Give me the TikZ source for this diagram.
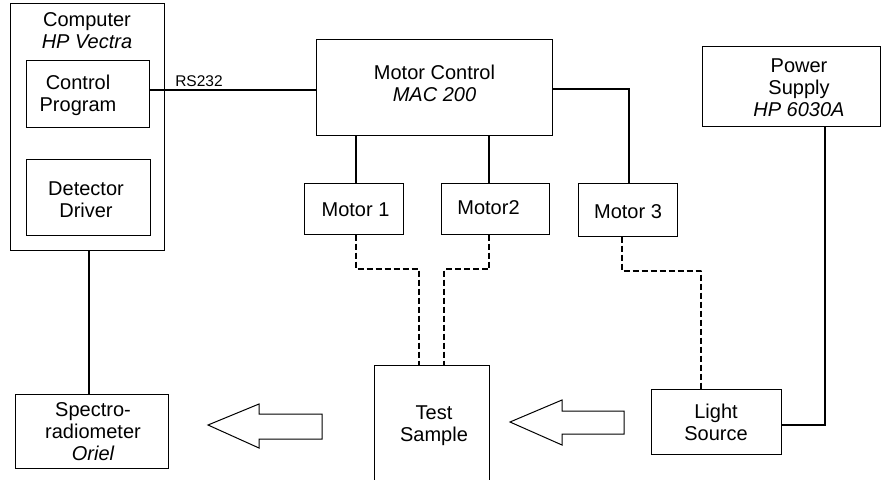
\documentclass[tikz,border=0pt]{standalone}
\usepackage{fontspec}
\setmainfont{Liberation Sans}
\usetikzlibrary{calc}

\tikzset{
  box/.style={draw=black, line width=1pt, inner sep=0pt, minimum width=#1},
  txt/.style={inner sep=0pt, align=center, font=\fontsize{20}{22}\selectfont},
  link/.style={line width=1.8pt},
  cable/.style={line width=2.8pt, dash pattern=on 6pt off 3pt, line join=round},
  beam/.style={draw=black, line width=1pt, line join=miter},
}

\begin{document}
\begin{tikzpicture}[x=1pt, y=-1pt]
\useasboundingbox (0,0) rectangle (882,479);
\clip (0,0) rectangle (882,479);

% computer and its programs
\node[box=154pt, minimum height=247pt] (comp) at (87,126.5) {};
\node[txt] (compt) at (87,31) {Computer\\\itshape HP Vectra};
\node[box=123pt, minimum height=67pt] (cp) at (87.5,93.5) {};
\node[txt] (cpt) at (78,95) {Control\\Program};
\node[box=124pt, minimum height=76pt] (dd) at (88,197) {};
\node[txt] (ddt) at (86,199.5) {Detector\\Driver};

% motor controller and motors
\node[box=236pt, minimum height=96pt] (mc) at (434,87) {};
\node[txt] (mct) at (434.5,83) {Motor Control\\\itshape MAC 200};
\node[box=99pt, minimum height=51pt] (m1) at (353.5,208.5) {};
\node[txt] (m1t) at (355.5,210) {Motor 1};
\node[box=108pt, minimum height=51pt] (m2) at (495,208.5) {};
\node[txt] (m2t) at (488.5,208) {Motor2};
\node[box=99pt, minimum height=53pt] (m3) at (627.5,209.5) {};
\node[txt] (m3t) at (628,212) {Motor 3};

% power supply
\node[box=178pt, minimum height=80pt] (ps) at (791,86) {};
\node[txt] (pst) at (799,87.5) {Power\\Supply\\\itshape HP 6030A};

% optical bench
\node[box=115pt, minimum height=130pt] (ts) at (431.5,430) {};
\node[txt] (tst) at (434,426) {Test\\Sample};
\node[box=130pt, minimum height=65pt] (ls) at (716,421.5) {};
\node[txt] (lst) at (716,422.5) {Light\\Source};
\node[box=153pt, minimum height=74pt] (spec) at (91.5,431) {};
\node[txt] (spect) at (93,432) {Spectro-\\radiometer\\\itshape Oriel};

% serial link
\draw[link] (cp.east |- 0,90) -- (mc.west |- 0,90);
\node[inner sep=0pt, anchor=base, font=\fontsize{15.5}{17}\selectfont] (rs) at (199,86) {RS232};

% control lines
\draw[link] (356,0 |- mc.south) -- (356,0 |- m1.north);
\draw[link] (489,0 |- mc.south) -- (489,0 |- m2.north);
\draw[link] (mc.east |- 0,89) -| (629,0 |- m3.north);
\draw[link] (89,0 |- comp.south) -- (89,0 |- spec.north);
\draw[link] (825,0 |- ps.south) |- (ls.east |- 0,425);

% mechanical couplings
\draw[cable] (356,0 |- m1.south) -- (356,269) -| (419,0 |- ts.north);
\draw[cable] (489,0 |- m2.south) -- (489,269) -| (444,0 |- ts.north);
\draw[cable] (622,0 |- m3.south) -- (622,271) -| (701,0 |- ls.north);

% light paths
\draw[beam] (510,422) -- (562,400) -- (562,411) -- (624,411) -- (624,434)
  -- (562,434) -- (562,445) -- cycle;
\draw[beam] (208,425) -- (259,404) -- (259,414) -- (322,414) -- (322,439)
  -- (259,439) -- (259,448) -- cycle;
\end{tikzpicture}
\end{document}
